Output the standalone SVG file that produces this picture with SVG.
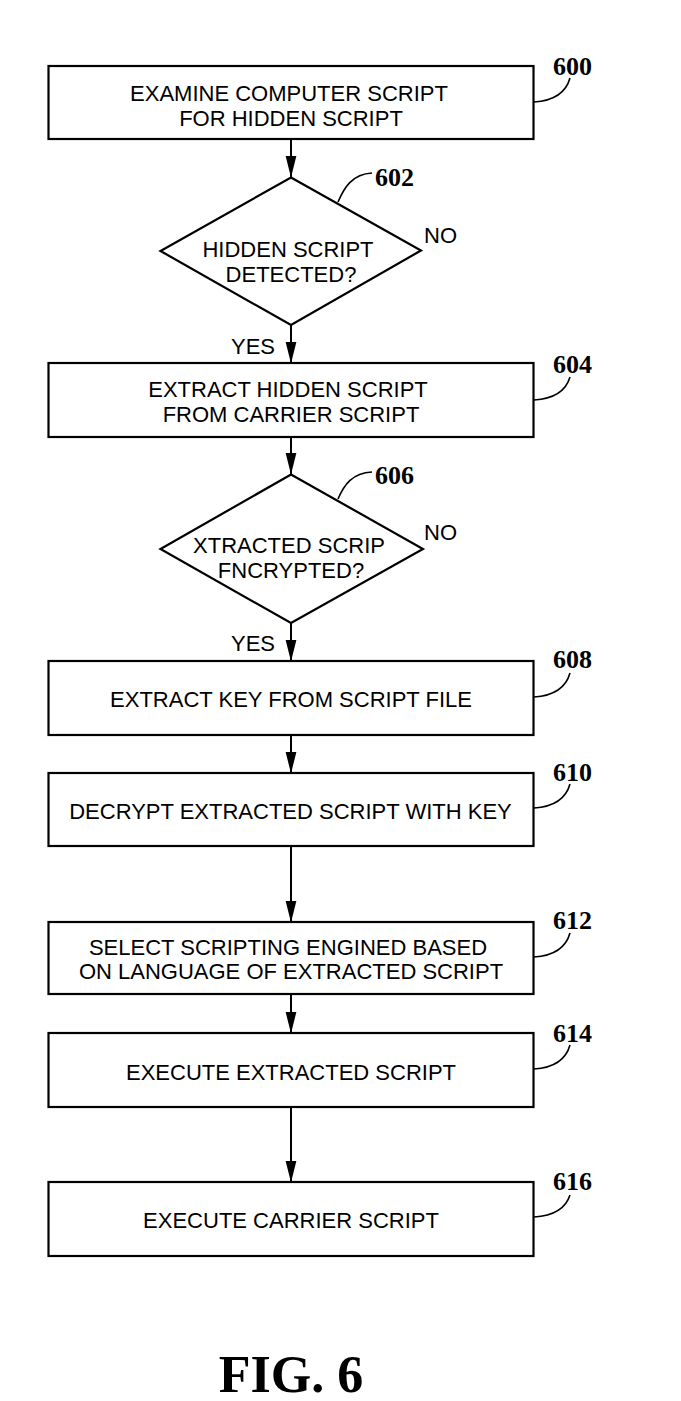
<svg xmlns="http://www.w3.org/2000/svg" width="681" height="1401" viewBox="0 0 681 1401">
<style>
.box{fill:#fff;stroke:#000;stroke-width:2.2}
.t{font-family:"Liberation Sans",Arial,sans-serif;font-size:22px;fill:#000;text-anchor:middle}
.s{font-family:"Liberation Sans",Arial,sans-serif;font-size:22px;fill:#000}
.ref{font-family:"Liberation Serif","Times New Roman",serif;font-weight:bold;font-size:26px;fill:#000}
.lead{fill:none;stroke:#000;stroke-width:1.6}
.con{fill:none;stroke:#000;stroke-width:2;marker-end:url(#arr)}
</style>
<defs>
<marker id="arr" markerUnits="userSpaceOnUse" markerWidth="22" markerHeight="12" viewBox="0 0 22 12" refX="21.5" refY="6" orient="auto">
<path d="M0,0.5 L22,6 L0,11.5 Z" fill="#000"/>
</marker>
</defs>
<rect width="681" height="1401" fill="#fff"/>
<g id="connectors">
<line class="con" x1="291" y1="139" x2="291" y2="177"/>
<line class="con" x1="291" y1="325" x2="291" y2="363"/>
<line class="con" x1="291" y1="437" x2="291" y2="474"/>
<line class="con" x1="291" y1="623" x2="291" y2="661"/>
<line class="con" x1="291" y1="735" x2="291" y2="773"/>
<line class="con" x1="291" y1="846" x2="291" y2="922"/>
<line class="con" x1="291" y1="994" x2="291" y2="1033"/>
<line class="con" x1="291" y1="1107" x2="291" y2="1182"/>
</g>
<g id="n600">
<rect class="box" x="48.5" y="66" width="485" height="73"/>
<text class="t" x="289" y="100.5">EXAMINE COMPUTER SCRIPT</text>
<text class="t" x="291" y="125.5">FOR HIDDEN SCRIPT</text>
<path class="lead" d="M534,102 C550,101 565,96 570,78"/>
<text class="ref" x="553" y="75">600</text>
</g>
<g id="n602">
<path class="box" d="M291,177.5 L421,250.5 L291,325 L160.5,251 Z"/>
<text class="t" x="288" y="257">HIDDEN SCRIPT</text>
<text class="t" x="291" y="282">DETECTED?</text>
<path class="lead" d="M338,202 C344,188 352,174 372,173"/>
<text class="ref" x="375" y="186">602</text>
<text class="s" x="424" y="243">NO</text>
<text class="s" x="231" y="354">YES</text>
</g>
<g id="n604">
<rect class="box" x="48.5" y="363" width="485" height="74"/>
<text class="t" x="288" y="397">EXTRACT HIDDEN SCRIPT</text>
<text class="t" x="291" y="422">FROM CARRIER SCRIPT</text>
<path class="lead" d="M534,400 C550,399 565,394 570,377"/>
<text class="ref" x="553" y="373">604</text>
</g>
<g id="n606">
<path class="box" d="M291,474.5 L423,549 L291,623 L160.5,549 Z"/>
<text class="t" x="289" y="552.5">XTRACTED SCRIP</text>
<text class="t" x="291" y="577.5">FNCRYPTED?</text>
<path class="lead" d="M338,499 C344,485 352,473 372,472"/>
<text class="ref" x="375" y="484">606</text>
<text class="s" x="424" y="540">NO</text>
<text class="s" x="231" y="651">YES</text>
</g>
<g id="n608">
<rect class="box" x="48.5" y="661" width="485" height="74"/>
<text class="t" x="291" y="707">EXTRACT KEY FROM SCRIPT FILE</text>
<path class="lead" d="M534,697 C550,696 565,691 570,673"/>
<text class="ref" x="553" y="668">608</text>
</g>
<g id="n610">
<rect class="box" x="48.5" y="773" width="485" height="73"/>
<text class="t" x="290.5" y="818.5">DECRYPT EXTRACTED SCRIPT WITH KEY</text>
<path class="lead" d="M534,808 C550,807 565,802 570,784"/>
<text class="ref" x="553" y="781">610</text>
</g>
<g id="n612">
<rect class="box" x="48.5" y="922" width="485" height="72"/>
<text class="t" x="288" y="955">SELECT SCRIPTING ENGINED BASED</text>
<text class="t" x="291" y="979">ON LANGUAGE OF EXTRACTED SCRIPT</text>
<path class="lead" d="M534,957 C550,956 565,951 570,933"/>
<text class="ref" x="553" y="929">612</text>
</g>
<g id="n614">
<rect class="box" x="48.5" y="1033" width="485" height="74"/>
<text class="t" x="291" y="1079.5">EXECUTE EXTRACTED SCRIPT</text>
<path class="lead" d="M534,1069 C550,1068 565,1063 570,1045"/>
<text class="ref" x="553" y="1042">614</text>
</g>
<g id="n616">
<rect class="box" x="48.5" y="1182" width="485" height="74"/>
<text class="t" x="291" y="1228">EXECUTE CARRIER SCRIPT</text>
<path class="lead" d="M534,1217 C550,1216 565,1211 570,1195"/>
<text class="ref" x="553" y="1190">616</text>
</g>
<text x="291" y="1392" font-family="'Liberation Serif','Times New Roman',serif" font-weight="bold" font-size="52" text-anchor="middle">FIG. 6</text>
</svg>
